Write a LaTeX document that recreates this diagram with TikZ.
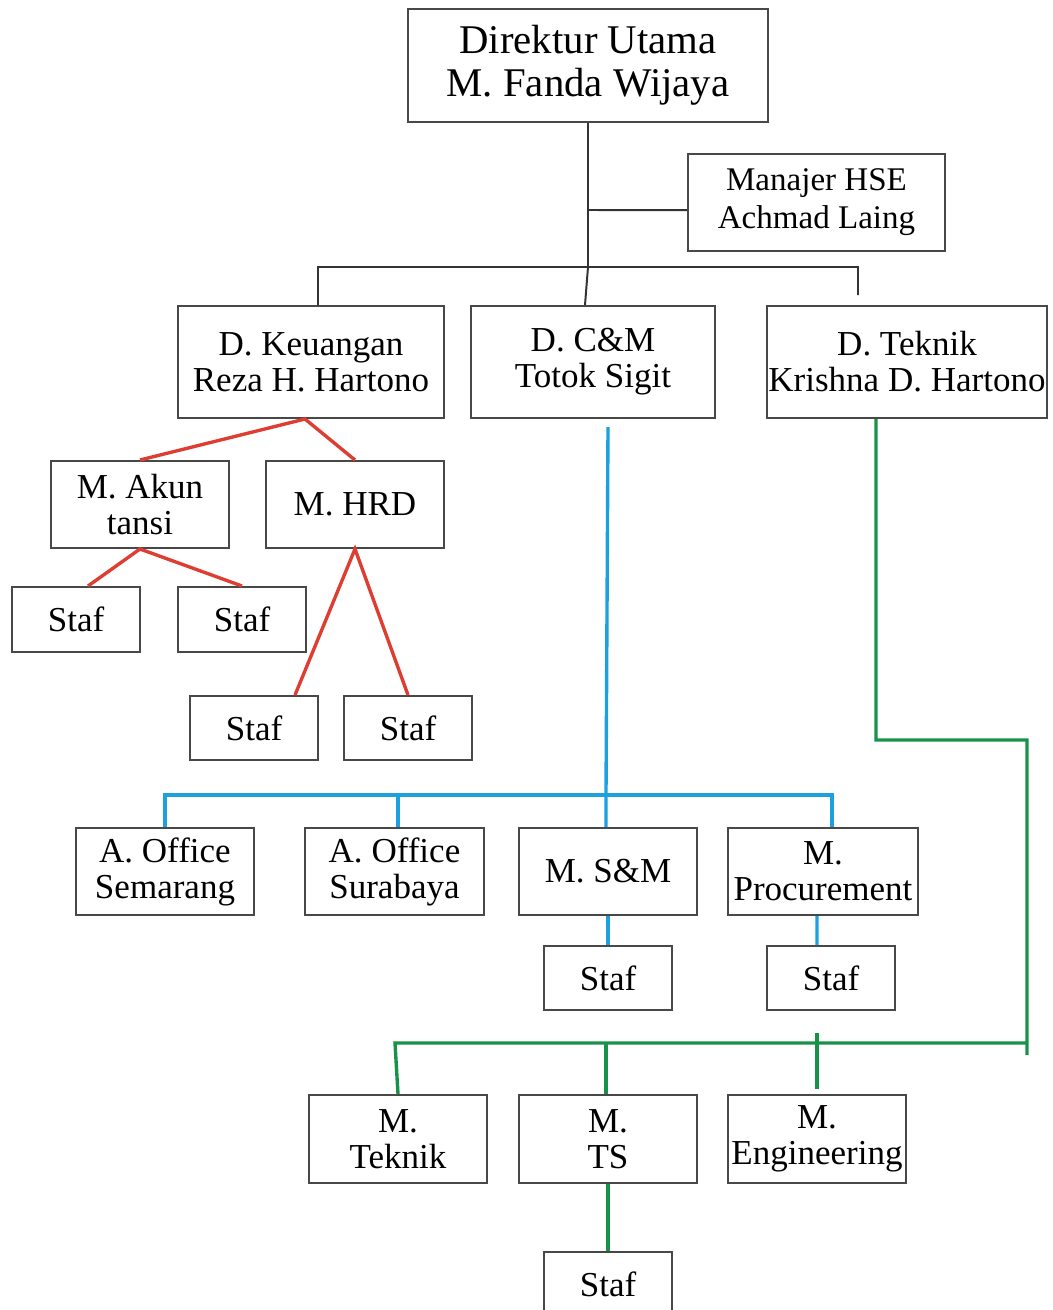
\documentclass[tikz,border=0pt]{standalone}
\usepackage{fontspec}
\setmainfont{Liberation Serif}
\usetikzlibrary{positioning}
\definecolor{redconn}{RGB}{222,62,50}
\definecolor{blueconn}{RGB}{28,160,222}
\definecolor{greenconn}{RGB}{24,146,72}
\definecolor{boxline}{RGB}{72,72,72}

\begin{document}
\begin{tikzpicture}[x=0.025cm,y=-0.025cm,
  orgbox/.style={draw=boxline,line width=1.4pt,inner sep=0pt,align=center,
    font=\fontsize{24.9pt}{25.6pt}\selectfont,minimum width=4.45cm,minimum height=2.175cm},
  stafbox/.style={orgbox,minimum width=3.2cm,minimum height=1.6cm},
  blackline/.style={draw=black!80,line width=1.4pt},
  redline/.style={draw=redconn,line width=2.4pt},
  blueline/.style={draw=blueconn,line width=2.4pt},
  greenline/.style={draw=greenconn,line width=2.4pt}]
\useasboundingbox (0,0) rectangle (1053,1310);

% pimpinan
\node[orgbox,minimum width=9cm,minimum height=2.825cm,font=\fontsize{29pt}{30.6pt}\selectfont] (dirut) at (588,65.5) {Direktur Utama\\M. Fanda Wijaya};
\node[orgbox,minimum width=6.425cm,minimum height=2.425cm,font=\fontsize{23.5pt}{27pt}\selectfont] (hse) at (816.5,202.5) {Manajer HSE\\Achmad Laing};

% direktur
\node[orgbox,minimum width=6.65cm,minimum height=2.8cm] (dkeu) at (311,362) {D. Keuangan\\Reza H. Hartono};
\node[orgbox,minimum width=6.1cm,minimum height=2.8cm] (dcm) at (593,362) {D. C\&M\\Totok Sigit};
\node[orgbox,minimum width=7cm,minimum height=2.8cm] (dtek) at (907,362) {D. Teknik\\Krishna D. Hartono};

% keuangan
\node[orgbox] (akun) at (140,504.5) {M. Akun\\tansi};
\node[orgbox] (hrd) at (355,504.5) {M. HRD};
\node[stafbox,minimum height=1.625cm] (staf1) at (76,619.5) {Staf};
\node[stafbox,minimum height=1.625cm] (staf2) at (242,619.5) {Staf};
\node[stafbox] (staf3) at (254,728) {Staf};
\node[stafbox] (staf4) at (408,728) {Staf};

% C&M
\node[orgbox] (semarang) at (165,871.5) {A. Office\\Semarang};
\node[orgbox] (surabaya) at (394.5,871.5) {A. Office\\Surabaya};
\node[orgbox] (sm) at (608,871.5) {M. S\&M};
\node[orgbox,minimum width=4.75cm] (proc) at (823,871.5) {M.\\Procurement};
\node[stafbox] (smstaf) at (608,978) {Staf};
\node[stafbox] (pstaf) at (831,978) {Staf};

% teknik
\node[orgbox,minimum height=2.2cm] (mteknik) at (398,1139) {M.\\Teknik};
\node[orgbox,minimum height=2.2cm] (mts) at (608,1139) {M.\\TS};
\node[orgbox,minimum height=2.2cm] (meng) at (817,1139) {M.\\Engineering};
\node[stafbox] (tstaf) at (608,1284) {Staf};

% garis hitam
\coordinate (hsej) at (588,210);
\coordinate (busM) at (588,267);
\coordinate (busL) at (318,267);
\coordinate (busR) at (858,267);
\draw[blackline] (dirut.south) -- (busM) -- ([xshift=-0.2cm]dcm.north);
\draw[blackline] ([yshift=-0.19cm]hse.west) -- (hsej);
\draw[blackline] ([xshift=0.175cm]dkeu.north) -- (busL) -- (busR) -- ([xshift=-1.225cm,yshift=0.25cm]dtek.north);

% garis merah
\draw[redline] (akun.north) -- ([xshift=-0.15cm]dkeu.south) -- (hrd.north);
\draw[redline] ([xshift=0.3cm]staf1.north) -- (akun.south) -- (staf2.north);
\draw[redline] ([xshift=1.025cm]staf3.north) -- (hrd.south) -- (staf4.north);

% garis biru
\coordinate (bbus) at (606,795);
\draw[blueline] ([xshift=0.375cm,yshift=-0.2cm]dcm.south) -- (bbus);
\draw[blueline] (semarang.north) |- (bbus) -| ([xshift=0.225cm]proc.north);
\draw[blueline] ([xshift=0.09cm]surabaya.north) -- ([xshift=0.09cm]surabaya.north |- bbus);
\draw[blueline] ([xshift=-0.05cm]sm.north) -- (bbus);
\draw[blueline] (sm.south) -- (smstaf.north);
\draw[blueline] ([xshift=-0.15cm]proc.south) -- ([xshift=-0.35cm]pstaf.north);

% garis hijau
\coordinate (gA) at (876,740);
\coordinate (gB) at (1027,740);
\coordinate (gC) at (1027,1055);
\coordinate (gbus) at (1027,1043);
\draw[greenline] ([xshift=-0.775cm]dtek.south) -- (gA) -- (gB) -- (gC);
\draw[greenline] (gbus) -- (395,1043) -- (mteknik.north);
\draw[greenline] ([xshift=-0.05cm]mts.north) -- ([xshift=-0.05cm]mts.north |- gbus);
\draw[greenline] ([yshift=0.125cm]meng.north) -- ([yshift=0.125cm]meng.north |- 0,1038);
\draw[greenline] (mts.south) -- (tstaf.north);

\end{tikzpicture}
\end{document}
